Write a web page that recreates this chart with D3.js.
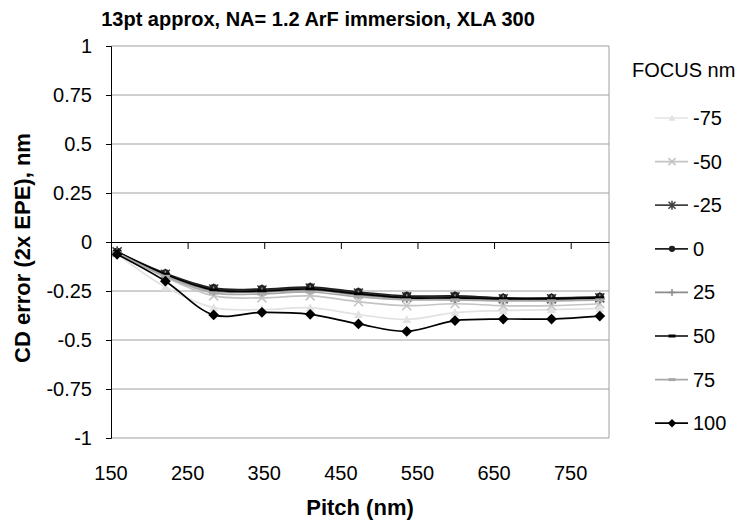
<!DOCTYPE html>
<html>
<head>
<meta charset="utf-8">
<script src="https://cdn.jsdelivr.net/npm/d3@7"></script>
<style>
  body { margin: 0; background: #fff; }
  text { font-family: "Liberation Sans", Arial, sans-serif; fill: #000; }
</style>
</head>
<body>
<div id="chart"></div>
<script>
// data
const pitch = [158, 221, 284, 347, 410, 473, 536, 599, 662, 725, 788];
const focusLabels = ["-75", "-50", "-25", "0", "25", "50", "75", "100"];
const focusM75 = [-0.06, -0.23, -0.335, -0.345, -0.335, -0.37, -0.395, -0.36, -0.35, -0.345, -0.34];
const focusM50 = [-0.055, -0.18, -0.275, -0.285, -0.275, -0.305, -0.325, -0.315, -0.325, -0.325, -0.315];
const focusM25 = [-0.05, -0.165, -0.24, -0.245, -0.235, -0.26, -0.28, -0.28, -0.29, -0.29, -0.285];
const focus0   = [-0.05, -0.16, -0.235, -0.24, -0.23, -0.255, -0.275, -0.275, -0.285, -0.285, -0.28];
const focus25  = [-0.055, -0.17, -0.25, -0.255, -0.245, -0.27, -0.29, -0.29, -0.295, -0.295, -0.29];
const focus50  = [-0.05, -0.165, -0.245, -0.25, -0.24, -0.265, -0.285, -0.285, -0.29, -0.29, -0.285];
const focus75  = [-0.055, -0.175, -0.26, -0.265, -0.255, -0.28, -0.295, -0.295, -0.3, -0.3, -0.295];
const focus100 = [-0.063, -0.2, -0.372, -0.359, -0.369, -0.418, -0.456, -0.401, -0.393, -0.393, -0.378];
const yTicks = [1, 0.75, 0.5, 0.25, 0, -0.25, -0.5, -0.75, -1];
const xTicks = [250, 350, 450, 550, 650, 750];
const xLabels = [150, 250, 350, 450, 550, 650, 750];

const seriesValues = [focusM75, focusM50, focusM25, focus0, focus25, focus50, focus75, focus100];
// line colour + marker per series
const styles = [
  {color: "#e2e2e2", marker: "triangle"},
  {color: "#c4c4c4", marker: "cross"},
  {color: "#404040", marker: "star"},
  {color: "#202020", marker: "circle"},
  {color: "#8a8a8a", marker: "plus"},
  {color: "#000000", marker: "dash"},
  {color: "#a8a8a8", marker: "dash"},
  {color: "#000000", marker: "diamond"}
];

const width = 743, height = 523;
const plot = {left: 111, right: 609, top: 46, bottom: 438};

const svg = d3.select("#chart").append("svg")
    .attr("width", width)
    .attr("height", height);

svg.append("rect").attr("width", width).attr("height", height).attr("fill", "#fff");

const x = d3.scaleLinear().domain([150, 800]).range([plot.left, plot.right]);
const y = d3.scaleLinear().domain([-1, 1]).range([plot.bottom, plot.top]);

// grid + frame
svg.append("g").selectAll("line")
    .data(yTicks.filter(d => d !== 0))
    .join("line")
        .attr("x1", plot.left).attr("x2", plot.right)
        .attr("y1", d => y(d)).attr("y2", d => y(d))
        .attr("stroke", "#a0a0a0")
        .attr("stroke-width", 1);

svg.append("line")
    .attr("x1", plot.right).attr("x2", plot.right)
    .attr("y1", plot.top).attr("y2", plot.bottom)
    .attr("stroke", "#a0a0a0");

// y axis
const yAxis = svg.append("g")
    .attr("transform", `translate(${plot.left},0)`)
    .call(d3.axisLeft(y).tickValues(yTicks).tickSize(5).tickPadding(14)
        .tickFormat(d => String(d)));
yAxis.selectAll("path, line").attr("stroke", "#000");
yAxis.selectAll("text").attr("font-size", 20).attr("font-family", null);

// zero axis with ticks
const xAxis = svg.append("g")
    .attr("transform", `translate(0,${y(0)})`)
    .call(d3.axisBottom(x).tickValues(xTicks).tickSize(7).tickSizeOuter(0).tickFormat(""));
xAxis.selectAll("path, line").attr("stroke", "#000");

// bottom labels
svg.append("g").selectAll("text")
    .data(xLabels)
    .join("text")
        .attr("x", d => x(d))
        .attr("y", 480)
        .attr("text-anchor", "middle")
        .attr("font-size", 20)
        .text(d => d);

// series
const line = d3.line()
    .x((d, i) => x(pitch[i]))
    .y(d => y(d))
    .curve(d3.curveCatmullRom);

function drawMarker(g, type, color, s) {
  if (type === "triangle") {
    g.append("path").attr("d", `M0,${-s}L${s},${s * 0.8}L${-s},${s * 0.8}Z`).attr("fill", color);
  } else if (type === "cross") {
    g.append("path").attr("d", `M${-s},${-s}L${s},${s}M${-s},${s}L${s},${-s}`)
        .attr("stroke", color).attr("stroke-width", 1.5);
  } else if (type === "star") {
    g.append("path").attr("d", `M${-s},${-s}L${s},${s}M${-s},${s}L${s},${-s}M0,${-s - 1}L0,${s + 1}`)
        .attr("stroke", color).attr("stroke-width", 1.5);
  } else if (type === "circle") {
    g.append("circle").attr("r", s * 0.9).attr("fill", color);
  } else if (type === "plus") {
    g.append("path").attr("d", `M${-s},0L${s},0M0,${-s}L0,${s}`)
        .attr("stroke", color).attr("stroke-width", 1.5);
  } else if (type === "dash") {
    g.append("rect").attr("x", -s).attr("y", -1.5).attr("width", 2 * s).attr("height", 3).attr("fill", color);
  } else if (type === "diamond") {
    g.append("path").attr("d", `M0,${-s * 1.2}L${s * 1.2},0L0,${s * 1.2}L${-s * 1.2},0Z`).attr("fill", color);
  }
}

seriesValues.forEach((values, k) => {
  const st = styles[k];
  svg.append("path")
      .datum(values)
      .attr("fill", "none")
      .attr("stroke", st.color)
      .attr("stroke-width", 1.7)
      .attr("d", line);
  values.forEach((v, i) => {
    const g = svg.append("g").attr("transform", `translate(${x(pitch[i])},${y(v)})`);
    drawMarker(g, st.marker, st.color, 4.5);
  });
});

// legend
svg.append("text")
    .attr("x", 632).attr("y", 77)
    .attr("font-size", 20)
    .text("FOCUS nm");

const legend = svg.append("g").selectAll("g")
    .data(focusLabels)
    .join("g")
        .attr("transform", (d, i) => `translate(0,${118 + i * 43.6})`);

legend.each(function(d, i) {
  const g = d3.select(this);
  g.append("line")
      .attr("x1", 655).attr("x2", 688)
      .attr("stroke", styles[i].color)
      .attr("stroke-width", 1.7);
  drawMarker(g.append("g").attr("transform", "translate(672,0)"), styles[i].marker, styles[i].color, 3.5);
  g.append("text")
      .attr("x", 693).attr("y", 7)
      .attr("font-size", 20)
      .text(d);
});

// titles
svg.append("text")
    .attr("x", 318).attr("y", 26)
    .attr("text-anchor", "middle")
    .attr("font-size", 20)
    .attr("font-weight", "bold")
    .text("13pt approx, NA= 1.2 ArF immersion, XLA 300");

svg.append("text")
    .attr("x", 360).attr("y", 515)
    .attr("text-anchor", "middle")
    .attr("font-size", 22)
    .attr("font-weight", "bold")
    .text("Pitch (nm)");

svg.append("text")
    .attr("transform", "translate(30,248) rotate(-90)")
    .attr("text-anchor", "middle")
    .attr("font-size", 22)
    .attr("font-weight", "bold")
    .text("CD error (2x EPE), nm");
</script>
</body>
</html>
